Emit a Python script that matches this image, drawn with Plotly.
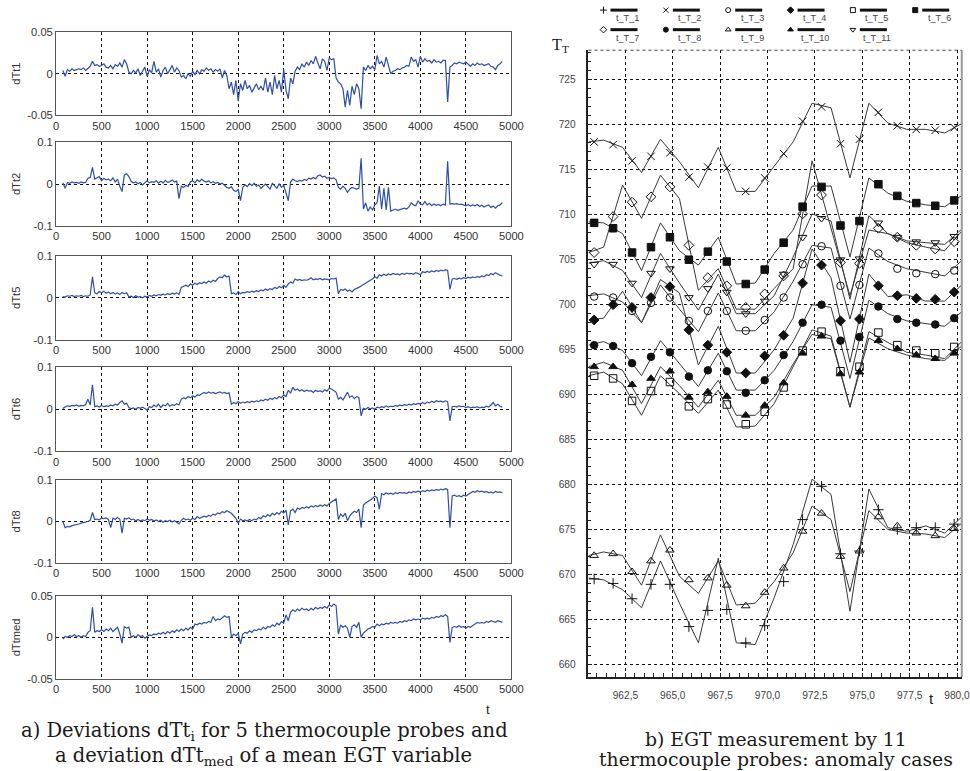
import plotly.graph_objects as go

# Layout positions below are written in window pixels (970 x 771).  The page is
# shown slightly reduced and shifted down, so each window position is mapped
# back into figure coordinates through SX / SY / OY.
W, H = 970, 771
SX, SY, OX, OY = 0.984, 0.982, 0.0, 5.9
FIG_W, FIG_H = 986, 785
FS = 1 / SX  # font enlargement so that text ends up at the intended size

# ---------------------------------------------------------------- left panel data
# sample index of the deviation records (every 25th sample)
T_SAMPLE = list(range(75, 4901, 25))

DTT1 = [
    0.004, -0.003, 0.005, 0.003, 0.006, 0.004, 0.005, 0.006, 0.005, 0.007,
    0.004, 0.006, 0.009, 0.015, 0.010, 0.011, 0.009, 0.010, 0.012, 0.008,
    0.007, 0.010, 0.006, 0.011, 0.009, 0.013, 0.008, 0.017, 0.012, 0.002,
    0.000, 0.004, 0.001, 0.006, -0.002, 0.003, 0.008, -0.003, 0.005, 0.001,
    0.015, 0.002, 0.006, -0.004, 0.004, 0.008, 0.000, 0.005, 0.010, 0.002,
    0.007, 0.004, -0.004, -0.002, -0.006, 0.000, -0.003, 0.003, -0.001, 0.004,
    0.000, 0.005, 0.003, 0.007, 0.004, 0.006, 0.002, 0.005, 0.003, 0.006,
    -0.005, 0.004, -0.002, -0.018, -0.010, -0.025, -0.008, -0.033, -0.012, -0.020,
    -0.008, -0.018, -0.014, -0.022, -0.016, -0.012, -0.019, -0.015, -0.020, -0.005,
    -0.022, -0.010, -0.025, -0.002, -0.018, -0.008, -0.022, 0.005, -0.020, -0.030,
    -0.005, -0.012, 0.003, 0.008, 0.005, 0.012, 0.008, 0.014, 0.010, 0.016,
    0.012, 0.021, 0.013, 0.006, 0.018, 0.015, 0.004, 0.019, 0.017, 0.018,
    -0.005, -0.010, -0.012, -0.018, -0.040, -0.020, -0.038, -0.015, -0.025, -0.012,
    -0.018, -0.042, 0.008, 0.004, 0.010, 0.006, 0.009, 0.005, 0.022, 0.012,
    0.015, 0.008, 0.020, 0.010, 0.000, 0.003, 0.004, 0.006, 0.005, 0.007,
    0.008, 0.010, 0.009, 0.020, 0.015, 0.017, 0.008, 0.021, 0.014, 0.018,
    0.015, 0.016, 0.013, 0.017, 0.014, 0.015, 0.013, 0.016, 0.016, -0.034,
    0.008, 0.010, 0.013, 0.012, 0.014, 0.013, 0.012, 0.014, 0.011, 0.009,
    0.012, 0.010, 0.013, 0.011, 0.012, 0.010, 0.011, 0.012, 0.009, 0.008,
    0.005, 0.010, 0.012, 0.015,
]

DTT2 = [
    0.003, -0.010, 0.004, 0.002, 0.005, 0.003, 0.004, 0.002, 0.005, 0.003,
    0.004, 0.014, 0.016, 0.040, 0.012, 0.015, 0.018, 0.008, 0.014, 0.010,
    0.012, 0.008, 0.015, 0.005, 0.012, -0.005, -0.018, 0.022, 0.025, 0.018,
    0.006, 0.003, 0.005, 0.001, 0.004, -0.002, 0.003, 0.008, 0.003, 0.006,
    0.004, 0.008, 0.002, 0.007, 0.003, 0.009, 0.004, 0.006, 0.010, 0.005,
    0.007, -0.035, -0.005, -0.008, -0.003, -0.006, 0.005, 0.008, 0.003, 0.010,
    0.006, 0.012, 0.007, 0.005, 0.008, 0.003, 0.006, 0.002, 0.004, 0.000,
    0.002, -0.003, -0.008, -0.010, -0.006, -0.015, -0.018, -0.012, -0.040, -0.008,
    -0.002, -0.006, 0.001, -0.004, 0.002, -0.005, -0.002, -0.010, -0.004, 0.000,
    -0.006, -0.012, 0.002, -0.004, -0.010, 0.001, -0.008, -0.003, -0.025, -0.040,
    0.005, 0.012, 0.008, 0.006, 0.009, 0.007, 0.011, 0.009, 0.014, 0.012,
    0.016, 0.013, 0.020, 0.022, 0.017, 0.019, 0.014, 0.016, 0.013, 0.015,
    0.010, -0.008, -0.012, -0.005, -0.010, -0.020, -0.012, -0.008, -0.010, -0.012,
    -0.010, 0.062, -0.060, -0.045, -0.065, -0.055, -0.062, -0.050, -0.045, -0.005,
    -0.060, -0.010, -0.062, -0.008, -0.065, -0.062, -0.060, -0.063, -0.061, -0.060,
    -0.058, -0.060, -0.055, -0.045, -0.050, -0.052, -0.040, -0.048, -0.050, -0.042,
    -0.050, -0.046, -0.052, -0.048, -0.051, -0.049, -0.052, -0.048, -0.050, 0.055,
    -0.048, -0.047, -0.048, -0.047, -0.049, -0.048, -0.050, -0.052, -0.049, -0.053,
    -0.050, -0.052, -0.049, -0.054, -0.051, -0.055, -0.052, -0.050, -0.056, -0.053,
    -0.058, -0.052, -0.050, -0.045,
]

DTT5 = [
    0.003, 0.002, 0.005, 0.004, 0.006, 0.003, 0.005, 0.004, 0.006, 0.003,
    0.005, 0.004, 0.007, 0.050, 0.012, 0.010, 0.015, 0.012, 0.016, 0.011,
    0.014, 0.010, 0.013, 0.009, 0.012, 0.008, 0.013, 0.010, 0.012, 0.002,
    0.004, 0.001, 0.005, 0.002, 0.003, 0.000, 0.004, 0.002, 0.006, 0.004,
    0.007, 0.005, 0.008, 0.006, 0.009, 0.007, 0.010, 0.008, 0.011, 0.009,
    0.012, 0.008, 0.025, 0.028, 0.030, 0.027, 0.033, 0.030, 0.035, 0.032,
    0.036, 0.034, 0.038, 0.035, 0.040, 0.037, 0.042, 0.039, 0.046, 0.050,
    0.048, 0.054, 0.050, 0.052, 0.010, 0.012, 0.008, 0.015, 0.010, 0.013,
    0.012, 0.015, 0.013, 0.016, 0.014, 0.017, 0.015, 0.019, 0.017, 0.021,
    0.018, 0.022, 0.020, 0.025, 0.022, 0.027, 0.024, 0.030, 0.025, 0.033,
    0.038, 0.035, 0.045, 0.042, 0.044, 0.041, 0.043, 0.042, 0.044, 0.048,
    0.043, 0.045, 0.044, 0.046, 0.043, 0.045, 0.044, 0.043, 0.046, 0.045,
    0.047, 0.010, 0.020, 0.018, 0.021, 0.016, 0.019, 0.014, 0.020, 0.022,
    0.025, 0.028, 0.032, 0.035, 0.038, 0.042, 0.045, 0.050, 0.047, 0.055,
    0.052, 0.056, 0.053, 0.057, 0.055, 0.058, 0.056, 0.057, 0.055, 0.058,
    0.056, 0.059, 0.057, 0.058, 0.056, 0.060, 0.058, 0.055, 0.062, 0.060,
    0.063, 0.061, 0.064, 0.062, 0.065, 0.063, 0.066, 0.064, 0.067, 0.065,
    0.020, 0.045, 0.046, 0.044, 0.047, 0.045, 0.048, 0.046, 0.049, 0.047,
    0.050, 0.048, 0.051, 0.049, 0.052, 0.050, 0.055, 0.053, 0.058, 0.055,
    0.060, 0.056, 0.054, 0.052,
]

DTT6 = [
    0.002, 0.006, 0.008, 0.007, 0.009, 0.008, 0.010, 0.007, 0.009, 0.008,
    0.011, 0.024, 0.010, 0.058, 0.006, 0.008, 0.005, 0.009, 0.006, 0.008,
    0.007, 0.010, 0.008, 0.012, 0.010, 0.016, 0.020, 0.012, 0.014, 0.004,
    0.001, 0.003, 0.000, 0.004, 0.002, 0.005, 0.001, -0.002, 0.006, 0.004,
    0.010, 0.006, 0.012, 0.004, 0.010, 0.008, 0.014, 0.007, 0.011, 0.009,
    0.013, 0.010, 0.024, 0.027, 0.025, 0.030, 0.027, 0.032, 0.029, 0.034,
    0.033, 0.036, 0.040, 0.037, 0.041, 0.038, 0.040, 0.037, 0.039, 0.041,
    0.038, 0.040, 0.037, 0.039, 0.012, 0.016, 0.013, 0.018, 0.014, 0.017,
    0.015, 0.018, 0.016, 0.019, 0.017, 0.020, 0.018, 0.022, 0.020, 0.024,
    0.021, 0.026, 0.023, 0.028, 0.025, 0.030, 0.027, 0.034, 0.030, 0.045,
    0.038, 0.052, 0.045, 0.048, 0.043, 0.046, 0.042, 0.045, 0.043, 0.044,
    0.040, 0.045, 0.042, 0.044, 0.041, 0.046, 0.043, 0.050, 0.048, 0.045,
    0.040, 0.024, 0.028, 0.022, 0.030, 0.040, 0.028, 0.032, 0.025, 0.030,
    0.028, -0.016, 0.002, 0.000, 0.004, 0.001, 0.003, 0.000, 0.005, 0.003,
    0.006, 0.004, 0.008, 0.005, 0.007, 0.006, 0.009, 0.007, 0.010, 0.008,
    0.011, 0.009, 0.012, 0.010, 0.013, 0.011, 0.014, 0.012, 0.016, 0.013,
    0.017, 0.015, 0.019, 0.016, 0.020, 0.018, 0.019, 0.017, 0.020, 0.018,
    -0.028, 0.006, 0.007, 0.005, 0.008, 0.006, 0.007, 0.004, 0.006, 0.003,
    0.005, 0.004, 0.006, 0.003, 0.005, 0.004, 0.007, 0.005, 0.010, 0.016,
    0.008, 0.012, 0.007, 0.005,
]

DTT8 = [
    0.000, -0.015, -0.012, -0.013, -0.010, -0.009, -0.007, -0.006, -0.004, -0.003,
    -0.002, 0.000, 0.003, 0.022, 0.005, 0.006, 0.004, 0.008, 0.007, 0.009,
    0.005, -0.015, 0.008, 0.005, 0.010, 0.006, -0.028, 0.008, 0.006, 0.009,
    0.004, 0.006, 0.002, 0.005, 0.001, 0.004, 0.002, 0.006, 0.003, 0.005,
    0.001, 0.004, 0.000, 0.003, -0.002, 0.002, 0.000, 0.003, -0.001, 0.002,
    -0.002, -0.006, 0.003, 0.008, 0.004, 0.006, 0.003, 0.008, 0.005, 0.012,
    0.008, 0.010, 0.013, 0.011, 0.015, 0.013, 0.018, 0.016, 0.021, 0.019,
    0.024, 0.022, 0.026, 0.023, 0.020, 0.014, 0.008, -0.004, 0.006, 0.002,
    0.004, 0.001, 0.005, 0.002, 0.006, 0.004, 0.010, 0.007, 0.014, 0.011,
    0.017, 0.013, 0.020, 0.016, 0.022, 0.018, 0.025, 0.021, 0.028, -0.008,
    0.026, 0.030, 0.022, 0.033, 0.030, 0.034, 0.032, 0.036, 0.033, 0.038,
    0.035, 0.039, 0.036, 0.040, 0.037, 0.041, 0.038, 0.044, 0.048, 0.052,
    0.055, 0.005, 0.018, 0.012, 0.020, 0.002, 0.014, 0.020, 0.025, 0.022,
    0.030, -0.015, 0.040, 0.045, 0.048, 0.052, 0.056, 0.062, 0.058, 0.030,
    0.068, 0.065, 0.070, 0.067, 0.069, 0.066, 0.070, 0.068, 0.071, 0.069,
    0.070, 0.068, 0.072, 0.070, 0.073, 0.071, 0.074, 0.072, 0.075, 0.073,
    0.076, 0.074, 0.077, 0.075, 0.078, 0.076, 0.079, 0.077, 0.080, 0.078,
    -0.015, 0.062, 0.064, 0.061, 0.063, 0.060, 0.064, 0.062, 0.065, 0.070,
    0.073, 0.071, 0.075, 0.072, 0.074, 0.071, 0.073, 0.070, 0.072, 0.069,
    0.073, 0.071, 0.072, 0.070,
]

DTTMED = [
    -0.002, 0.001, 0.000, 0.002, 0.001, 0.003, 0.001, 0.002, 0.000, 0.002,
    0.001, 0.006, 0.008, 0.036, 0.006, 0.008, 0.007, 0.009, 0.007, 0.010,
    0.008, 0.011, 0.007, 0.010, 0.012, 0.004, -0.007, 0.013, 0.011, 0.012,
    0.000, 0.002, 0.000, 0.003, 0.001, 0.002, -0.001, 0.001, 0.003, 0.002,
    0.004, 0.003, 0.005, 0.004, 0.006, 0.004, 0.007, 0.005, 0.008, 0.006,
    0.009, 0.007, 0.010, 0.008, 0.011, 0.009, 0.012, 0.010, 0.016, 0.015,
    0.017, 0.016, 0.018, 0.017, 0.019, 0.018, 0.025, 0.020, 0.022, 0.021,
    0.023, 0.026, 0.024, 0.025, 0.000, 0.004, 0.002, 0.005, -0.008, 0.004,
    0.006, 0.005, 0.008, 0.006, 0.009, 0.008, 0.010, 0.009, 0.012, 0.010,
    0.013, 0.012, 0.015, 0.013, 0.017, 0.015, 0.019, 0.017, 0.027, 0.020,
    0.030, 0.033, 0.031, 0.034, 0.032, 0.035, 0.033, 0.034, 0.032, 0.035,
    0.033, 0.036, 0.034, 0.036, 0.035, 0.037, 0.035, 0.039, 0.037, 0.040,
    0.038, 0.004, 0.015, 0.012, 0.014, 0.011, 0.000, 0.013, 0.015, 0.012,
    0.018, 0.000, 0.005, 0.008, 0.010, 0.011, 0.013, 0.012, 0.016, 0.014,
    0.016, 0.015, 0.017, 0.016, 0.018, 0.017, 0.018, 0.017, 0.019, 0.018,
    0.020, 0.019, 0.021, 0.020, 0.022, 0.021, 0.022, 0.021, 0.023, 0.022,
    0.023, 0.022, 0.024, 0.023, 0.025, 0.024, 0.026, 0.025, 0.027, 0.025,
    -0.006, 0.012, 0.013, 0.012, 0.014, 0.012, 0.013, 0.011, 0.013, 0.012,
    0.014, 0.016, 0.018, 0.017, 0.018, 0.017, 0.019, 0.018, 0.020, 0.019,
    0.018, 0.020, 0.019, 0.018,
]

LEFT_NAMES = ["dTt1", "dTt2", "dTt5", "dTt6", "dTt8", "dTtmed"]
LEFT_VALUES = [DTT1, DTT2, DTT5, DTT6, DTT8, DTTMED]
LEFT_LIMITS = [0.05, 0.1, 0.1, 0.1, 0.1, 0.05]

# ---------------------------------------------------------------- right panel data
T_VERTEX = [960.55, 961.35, 962.35, 963.35, 964.35, 965.35, 966.35, 967.40, 968.35,
            969.35, 970.35, 971.35, 972.35, 973.35, 974.35, 975.35, 976.35, 977.35,
            978.35, 979.35, 980.30]
T_MARK = [960.85, 961.85, 962.85, 963.85, 964.85, 965.85, 966.85, 967.85, 968.85, 969.85,
          970.85, 971.85, 972.85, 973.85, 974.85, 975.85, 976.85, 977.85, 978.85, 979.85]

PROBES = ["t_T_1", "t_T_2", "t_T_3", "t_T_4", "t_T_5", "t_T_6",
          "t_T_7", "t_T_8", "t_T_9", "t_T_10", "t_T_11"]
SYMBOLS = ["cross-thin-open", "x-thin-open", "circle-open", "diamond", "square-open", "square",
           "diamond-open", "circle", "triangle-up-open", "triangle-up", "triangle-down-open"]

EGT_LINE = {
    "t_T_1": [669.6, 669.4, 668.3, 666.3, 671.5, 666.8, 662.4, 671.8, 662.4, 662.2, 667.4,
              673.3, 680.6, 678.9, 665.9, 679.5, 675.2, 674.8, 675.4, 674.6, 676.5],
    "t_T_2": [718.1, 718.3, 717.5, 714.7, 718.4, 715.9, 713.0, 717.5, 712.6, 712.6, 715.4,
              718.1, 722.4, 721.9, 714.1, 722.4, 720.2, 719.5, 719.5, 719.1, 720.2],
    "t_T_3": [701.0, 701.2, 700.3, 698.0, 702.2, 699.5, 697.0, 701.3, 697.1, 697.1, 699.2,
              702.6, 706.6, 706.3, 698.4, 706.3, 704.8, 704.0, 703.6, 703.2, 705.0],
    "t_T_4": [698.3, 698.5, 701.5, 698.0, 702.8, 701.3, 693.3, 697.6, 692.4, 692.4, 695.0,
              698.5, 706.2, 703.0, 693.6, 703.4, 700.9, 701.1, 700.4, 700.4, 702.3],
    "t_T_5": [692.1, 692.5, 691.2, 687.7, 692.1, 690.1, 687.9, 690.5, 686.4, 686.5, 689.0,
              693.1, 697.2, 696.5, 688.6, 697.0, 695.8, 694.7, 694.4, 694.0, 696.0],
    "t_T_6": [709.2, 709.1, 707.9, 703.8, 709.1, 706.0, 704.4, 707.5, 702.3, 702.4, 705.7,
              708.3, 713.2, 713.2, 705.3, 714.1, 712.4, 711.5, 711.1, 710.9, 712.2],
    "t_T_7": [705.8, 706.4, 713.3, 709.6, 714.4, 711.8, 701.6, 704.0, 699.5, 699.5, 701.8,
              704.0, 716.0, 708.5, 701.0, 708.3, 707.9, 706.9, 706.4, 706.0, 708.3],
    "t_T_8": [695.5, 695.9, 694.9, 692.1, 696.0, 693.4, 690.9, 694.6, 690.5, 690.5, 692.7,
              695.9, 700.0, 699.7, 691.8, 700.5, 699.0, 698.2, 697.9, 697.6, 699.3],
    "t_T_9": [672.1, 672.5, 672.1, 668.8, 674.4, 669.8, 667.9, 671.5, 666.6, 666.8, 669.2,
              672.4, 677.6, 676.1, 668.1, 677.1, 675.0, 674.6, 674.5, 674.1, 675.8],
    "t_T_10": [693.1, 693.6, 692.7, 689.0, 693.1, 691.0, 688.6, 691.6, 687.7, 687.7, 689.7,
               693.4, 696.7, 696.2, 688.6, 696.3, 695.1, 694.4, 694.0, 693.8, 695.5],
    "t_T_11": [704.6, 704.9, 703.8, 700.8, 705.7, 702.4, 699.4, 703.4, 699.0, 699.0, 701.0,
               705.3, 710.1, 709.3, 700.6, 709.9, 707.9, 707.1, 706.9, 706.7, 708.5],
}

EGT_MARK = {
    "t_T_1": [669.5, 669.0, 667.3, 668.9, 668.9, 664.2, 666.0, 666.1, 662.4, 664.3,
              669.2, 676.1, 679.8, 672.3, 672.6, 677.2, 675.0, 675.2, 675.2, 675.6],
    "t_T_2": [718.1, 717.8, 716.0, 716.5, 716.9, 714.2, 715.3, 715.2, 712.6, 714.1,
              716.8, 720.4, 722.0, 717.9, 718.4, 721.4, 719.9, 719.5, 719.4, 719.7],
    "t_T_3": [700.9, 700.8, 699.3, 700.2, 700.8, 698.2, 699.3, 699.3, 697.1, 698.3,
              700.8, 704.5, 706.5, 702.1, 702.2, 705.7, 704.0, 703.5, 703.4, 703.8],
    "t_T_4": [698.3, 700.0, 699.7, 700.8, 702.0, 697.2, 695.5, 694.7, 692.4, 694.3,
              696.6, 702.4, 704.4, 698.2, 698.4, 702.1, 701.0, 700.7, 700.6, 701.4],
    "t_T_5": [692.1, 691.8, 689.3, 690.4, 691.4, 688.7, 689.5, 688.9, 686.7, 688.1,
              690.8, 694.9, 697.0, 692.6, 693.1, 696.9, 695.5, 694.9, 694.6, 695.3],
    "t_T_6": [709.1, 708.5, 705.8, 706.4, 707.5, 705.0, 705.9, 704.8, 702.3, 703.9,
              706.9, 710.9, 713.1, 708.8, 709.3, 713.4, 712.1, 711.3, 711.0, 711.6],
    "t_T_7": [705.8, 709.8, 711.4, 712.0, 713.1, 706.6, 703.0, 702.1, 699.7, 701.2,
              703.2, 710.1, 712.2, 704.7, 704.6, 708.5, 707.5, 706.6, 706.2, 707.0],
    "t_T_8": [695.5, 695.4, 693.5, 694.2, 694.7, 692.0, 692.7, 692.6, 690.2, 691.6,
              694.4, 698.0, 700.0, 696.0, 696.4, 699.8, 698.4, 698.0, 697.8, 698.5],
    "t_T_9": [672.1, 672.3, 670.3, 671.5, 672.7, 669.4, 669.6, 668.8, 666.5, 668.0,
              670.7, 674.8, 676.8, 672.0, 672.6, 676.4, 675.4, 674.6, 674.3, 675.1],
    "t_T_10": [693.1, 693.1, 691.1, 691.8, 692.6, 689.7, 690.3, 689.8, 687.7, 688.8,
               691.3, 694.6, 696.5, 692.3, 692.5, 696.0, 695.1, 694.4, 694.0, 694.6],
    "t_T_11": [704.5, 704.5, 702.4, 703.5, 704.0, 700.8, 701.8, 701.4, 699.0, 700.4,
               703.4, 707.5, 709.6, 705.0, 705.1, 709.1, 707.5, 707.0, 706.9, 707.6],
}

X_TICKS = [962.5, 965.0, 967.5, 970.0, 972.5, 975.0, 977.5, 980.0]
Y_TICKS = [660, 665, 670, 675, 680, 685, 690, 695, 700, 705, 710, 715, 720, 725]

# ---------------------------------------------------------------- styling
BLUE = "#2f4ea6"
SANS = "Liberation Sans, Arial, sans-serif"
SERIF = "DejaVu Serif, serif"


def fx(v):
    """window column -> figure pixel column"""
    return (v - OX) / SX


def fy(v):
    """window row -> figure pixel row"""
    return (v - OY) / SY


def px_x(v):
    return fx(v) / FIG_W


def px_y(v):
    return 1 - fy(v) / FIG_H


def fsz(s):
    return s * FS


def note(text, x, y, **font):
    font = dict(font)
    font["size"] = fsz(font["size"])
    return dict(text=text, x=px_x(x), y=px_y(y), xref="paper", yref="paper",
                xanchor="center", yanchor="middle", showarrow=False, font=font)


layout = dict(
    width=FIG_W, height=FIG_H, autosize=False,
    margin=dict(l=0, r=0, t=0, b=0, pad=0),
    paper_bgcolor="white", plot_bgcolor="rgba(0,0,0,0)",
    showlegend=False,
    font=dict(family=SANS, color="#333"),
)

fig = go.Figure()
annotations = []
shapes = []

# ---- left column: six deviation panels
L_X0, L_X1 = 53, 508
TOPS = [32, 142, 255, 366, 479, 594]
BOTS = [115, 225, 339, 450, 561, 677]
TICKFONT_L = dict(family=SANS, size=fsz(11), color="#333")

for i, (name, vals, lim) in enumerate(zip(LEFT_NAMES, LEFT_VALUES, LEFT_LIMITS)):
    n = i + 1
    sfx = "" if n == 1 else str(n)
    lim_txt = f"{lim:g}"
    layout["xaxis" + sfx] = dict(
        domain=[px_x(L_X0), px_x(L_X1)], range=[0, 5000], anchor="y" + sfx,
        tickvals=list(range(0, 5001, 500)), ticks="",
        showgrid=True, gridcolor="#111", griddash="dot", gridwidth=1,
        showline=True, mirror=True, linecolor="#555", linewidth=1, zeroline=False,
        tickfont=TICKFONT_L,
    )
    layout["yaxis" + sfx] = dict(
        domain=[px_y(BOTS[i]), px_y(TOPS[i])], range=[-lim, lim], anchor="x" + sfx,
        tickvals=[-lim, 0, lim], ticktext=["-" + lim_txt, "0", lim_txt], ticks="",
        showgrid=True, gridcolor="#111", griddash="dot", gridwidth=1,
        showline=True, mirror=True, linecolor="#555", linewidth=1, zeroline=False,
        tickfont=TICKFONT_L,
    )
    fig.add_trace(go.Scatter(
        x=T_SAMPLE, y=vals, mode="lines", line=dict(color=BLUE, width=1.2),
        xaxis="x" + sfx, yaxis="y" + sfx, hoverinfo="skip",
    ))
    a = note(name, 13, (TOPS[i] + BOTS[i]) / 2, family=SANS, size=11, color="#333")
    a["textangle"] = -90
    annotations.append(a)

annotations.append(note("t", 485, 707, family=SANS, size=13, color="#222"))

# ---- right column: EGT of the 11 probes
R_X0, R_X1, R_Y0, R_Y1 = 585, 958, 50, 675
TICKFONT_R = dict(family=SANS, size=fsz(10), color="#444")
layout["xaxis7"] = dict(
    domain=[px_x(R_X0), px_x(R_X1)], range=[960.55, 980.25], anchor="y7",
    tickvals=X_TICKS, ticktext=[f"{v:.1f}".replace(".", ",") for v in X_TICKS],
    ticks="inside", ticklen=4, tickcolor="#222", ticklabelstandoff=8,
    showgrid=True, gridcolor="#111", griddash="dot", gridwidth=1,
    showline=True, linecolor="#222", linewidth=1.5, zeroline=False,
    minor=dict(dtick=0.5, tick0=960, ticks="inside", ticklen=4, tickcolor="#222", showgrid=False),
    tickfont=TICKFONT_R,
)
layout["yaxis7"] = dict(
    domain=[px_y(R_Y1), px_y(R_Y0)], range=[658.6, 728.3], anchor="x7",
    tickvals=Y_TICKS, ticks="inside", ticklen=4, tickcolor="#222", ticklabelstandoff=9,
    showgrid=True, gridcolor="#111", griddash="dot", gridwidth=1,
    showline=True, linecolor="#222", linewidth=1.5, zeroline=False,
    minor=dict(dtick=1, tick0=660, ticks="inside", ticklen=3, tickcolor="#222", showgrid=False),
    tickfont=TICKFONT_R,
)

for probe in PROBES:
    fig.add_trace(go.Scatter(
        x=T_VERTEX, y=EGT_LINE[probe], mode="lines",
        line=dict(color="#3a3a3a", width=1), xaxis="x7", yaxis="y7", hoverinfo="skip",
    ))
for probe, sym in zip(PROBES, SYMBOLS):
    fig.add_trace(go.Scatter(
        x=T_MARK, y=EGT_MARK[probe], mode="markers", name=probe,
        marker=dict(symbol=sym, size=7.5, color="#111", line=dict(color="#111", width=1)),
        xaxis="x7", yaxis="y7", hoverinfo="skip",
    ))

# right and top edges of the EGT frame
shapes.append(dict(type="line", xref="paper", yref="paper",
                   x0=px_x(R_X1), x1=px_x(R_X1), y0=px_y(R_Y0), y1=px_y(R_Y1),
                   line=dict(color="#999", width=2)))
shapes.append(dict(type="line", xref="paper", yref="paper",
                   x0=px_x(R_X0), x1=px_x(R_X1), y0=px_y(R_Y0), y1=px_y(R_Y0),
                   line=dict(color="#444", width=1, dash="dot")))

annotations.append(note("T<sub>T</sub>", 557, 45, family="Liberation Serif, serif", size=16, color="#222"))
annotations.append(note("t", 928, 696, family=SANS, size=15, color="#223"))

# ---- key above the EGT panel: symbol, bar, name underneath
layout["xaxis8"] = dict(domain=[0, 1], range=[0, FIG_W], visible=False, fixedrange=True, anchor="y8")
layout["yaxis8"] = dict(domain=[0, 1], range=[FIG_H, 0], visible=False, fixedrange=True, anchor="x8")
COL_STEP, ROW_STEP = 62.3, 19.5
key_x, key_y = [], []
for j, probe in enumerate(PROBES):
    col, row = j % 6, j // 6
    mx, my = 600 + COL_STEP * col, 10 + ROW_STEP * row
    key_x.append(fx(mx))
    key_y.append(fy(my))
    shapes.append(dict(type="line", xref="paper", yref="paper",
                       x0=px_x(mx + 7), x1=px_x(mx + 34), y0=px_y(my), y1=px_y(my),
                       line=dict(color="#111", width=3)))
    annotations.append(note(probe, mx + 24, my + 8, family=SANS, size=9, color="#444"))
fig.add_trace(go.Scatter(
    x=key_x, y=key_y, mode="markers", xaxis="x8", yaxis="y8", hoverinfo="skip",
    marker=dict(symbol=SYMBOLS, size=5, color="#111", line=dict(color="#111", width=1)),
))

# ---- captions
CAP_A = dict(family=SERIF, size=19.2, color="#1a1a1a")
CAP_B = dict(family=SERIF, size=18.5, color="#1a1a1a")
annotations += [
    note("a) Deviations dTt<sub>i</sub> for 5 thermocouple probes and", 261, 729, **CAP_A),
    note("a deviation dTt<sub>med</sub> of a mean EGT variable", 260, 754, **CAP_A),
    note("b) EGT measurement by 11", 772, 737, **CAP_B),
    note("thermocouple probes: anomaly cases", 772, 757, **CAP_B),
]

layout["annotations"] = annotations
layout["shapes"] = shapes
fig.update_layout(layout)
fig.write_html("out.html")
